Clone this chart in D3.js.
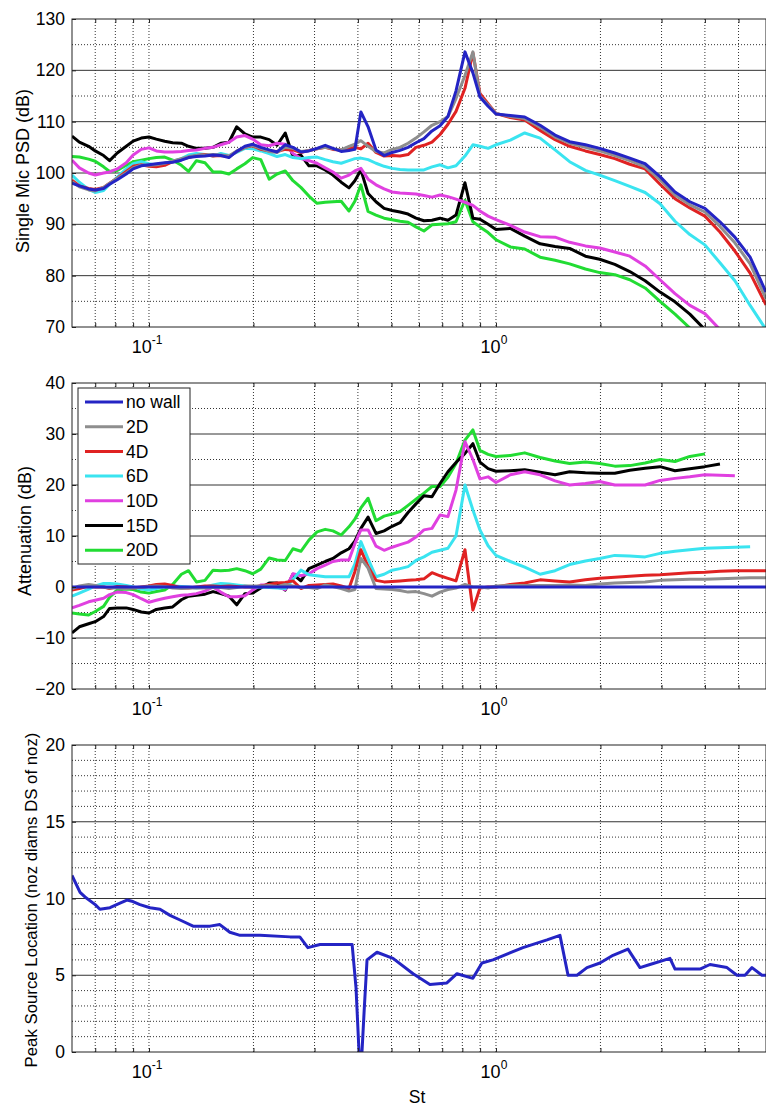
<!DOCTYPE html>
<html lang="en">
<head>
<meta charset="UTF-8">
<title>Wall distance study</title>
<script src="https://cdn.jsdelivr.net/npm/d3@7"></script>
<style>
    body { margin: 0; background: #fff; }
    svg { display: block; font-family: "Liberation Sans", Arial, sans-serif; }
    .grid-major { stroke: #333; stroke-width: 1; }
    .grid-minor { stroke: #333; stroke-width: 1; stroke-dasharray: 1,2; }
    .frame { fill: none; stroke: #222; stroke-width: 1; }
</style>
</head>
<body>
<svg id="chart" width="766" height="1106"></svg>
<script>
// Strouhal numbers shared by the PSD and attenuation curves
const stGrid = [0.060, 0.063, 0.067, 0.070, 0.074, 0.077, 0.081, 0.086, 0.090, 0.095,
    0.100, 0.105, 0.111, 0.117, 0.124, 0.130, 0.137, 0.145, 0.153, 0.161,
    0.170, 0.179, 0.189, 0.199, 0.210, 0.222, 0.234, 0.247, 0.260, 0.274,
    0.289, 0.305, 0.322, 0.339, 0.358, 0.377, 0.392, 0.408, 0.428, 0.451,
    0.476, 0.502, 0.529, 0.558, 0.588, 0.620, 0.654, 0.690, 0.727, 0.767,
    0.814, 0.858, 0.899, 0.949, 1.000, 1.10, 1.21, 1.34, 1.48, 1.63,
    1.81, 1.99, 2.20, 2.43, 2.69, 2.97, 3.28, 3.62, 4.00, 4.42,
    4.88, 5.40, 6.00];

// Single mic PSD (dB)
const psdNoWall = [98.0, 97.5, 96.9, 96.7, 97.0, 97.8, 98.7, 99.8, 100.8, 101.4,
    101.6, 101.8, 102.0, 102.1, 102.5, 103.0, 103.2, 103.3, 103.5, 103.4,
    103.0, 104.2, 105.2, 105.6, 105.0, 104.5, 104.1, 105.5, 105.0, 104.1,
    104.3, 104.8, 105.4, 104.8, 104.2, 104.4, 104.6, 111.9, 109.0, 104.5,
    103.4, 104.0, 104.4, 105.0, 105.9, 106.7, 108.2, 109.2, 111.0, 116.0,
    123.6, 119.5, 114.8, 113.0, 111.5, 111.2, 110.9, 109.3, 107.4, 106.1,
    105.5, 104.8, 103.9, 102.9, 101.8, 99.3, 96.3, 94.4, 93.1, 90.5,
    87.5, 83.6, 76.8];
const psd2D = [98.3, 97.3, 96.7, 96.5, 97.2, 98.0, 98.9, 100.0, 101.0, 101.5,
    101.5, 101.6, 101.9, 102.3, 102.8, 103.2, 103.4, 103.5, 103.6, 103.5,
    103.3, 104.3, 105.0, 105.4, 104.8, 104.2, 104.0, 105.0, 104.8, 104.2,
    104.4, 104.7, 105.0, 104.7, 104.5, 105.2, 105.6, 106.3, 105.2, 104.2,
    103.9, 104.6, 105.0, 105.8, 106.8, 108.0, 109.3, 110.0, 111.0, 114.5,
    119.0, 123.6, 115.0, 113.3, 111.6, 111.0, 110.6, 108.9, 107.0, 105.8,
    105.0, 104.3, 103.4, 102.4, 101.2, 98.7, 95.7, 93.8, 92.4, 89.6,
    86.4, 82.3, 75.5];
const psd4D = [98.6, 97.5, 97.0, 96.8, 97.2, 98.0, 99.0, 100.3, 101.3, 101.6,
    101.3, 101.2, 101.5, 102.2, 102.7, 103.0, 103.4, 103.6, 103.3, 103.4,
    103.2, 104.2, 105.0, 105.3, 104.6, 104.3, 104.2, 104.6, 104.5, 104.0,
    104.4, 104.7, 105.0, 104.6, 104.5, 104.8, 105.0, 104.7, 105.8, 104.0,
    103.3, 103.4, 103.3, 103.6, 105.0, 105.4, 106.0, 107.5, 109.5, 112.0,
    116.5, 123.4, 115.5, 113.5, 111.6, 110.8, 110.3, 108.3, 106.5, 105.2,
    104.3, 103.6, 102.8, 101.7, 100.8, 97.8, 95.0, 93.2, 91.6, 88.5,
    84.8, 80.5, 74.3];
const psd6D = [99.6, 98.2, 96.8, 96.2, 96.6, 97.8, 99.2, 100.8, 101.8, 102.2,
    101.8, 101.5, 101.6, 102.3, 102.8, 103.5, 103.8, 103.6, 103.3, 103.8,
    103.4, 104.0, 104.8, 104.7, 104.3, 103.8, 103.2, 103.6, 103.0, 102.8,
    103.0, 103.1, 102.6, 102.2, 101.9, 102.4, 102.8, 102.9, 102.6, 101.9,
    101.3, 100.9, 100.7, 100.6, 100.6, 100.6, 101.2, 101.6, 101.0, 101.4,
    103.3, 105.5, 105.2, 104.8, 105.5, 106.4, 107.8, 106.8, 104.5, 102.2,
    100.5, 99.6, 98.5, 97.4, 96.2, 94.0, 90.6, 88.0, 86.0, 82.5,
    79.0, 74.2, 69.5];
const psd10D = [102.5, 101.0, 100.0, 99.6, 100.0, 100.2, 100.8, 102.0, 103.5, 104.6,
    104.9, 104.3, 104.1, 104.1, 104.2, 104.4, 104.5, 104.8, 105.0, 105.5,
    106.0, 107.0, 107.3, 106.6, 105.5, 105.3, 105.8, 105.6, 103.8, 102.8,
    102.4, 101.9, 101.0, 100.2, 99.0, 99.6, 100.4, 100.9, 98.8, 97.7,
    96.9, 96.3, 96.1, 96.0, 95.9, 95.6, 95.3, 95.7, 95.4, 94.9,
    94.3, 93.7, 92.6, 91.6, 90.9, 89.8, 88.5, 87.6, 87.5, 86.5,
    85.8, 85.4, 84.6, 83.8, 81.9, 79.2, 76.5, 74.2, 72.6, 69.5,
    66.0, 63.0, 60.0];
const psd15D = [107.2, 106.0, 105.2, 104.3, 103.4, 102.4, 103.9, 105.2, 106.2, 106.8,
    107.0, 106.6, 106.2, 105.9, 105.8, 105.2, 104.8, 104.8, 105.0, 105.8,
    106.0, 109.0, 107.6, 107.0, 107.0, 106.5, 105.4, 107.8, 103.2, 103.5,
    101.4, 101.4, 100.6, 99.6, 98.2, 97.1, 98.5, 100.6, 96.0, 94.4,
    93.1, 92.7, 92.4, 92.0, 91.2, 90.7, 90.8, 91.2, 90.8, 91.8,
    98.1, 91.2, 91.0, 90.0, 89.0, 89.2, 87.7, 86.2, 85.7, 85.3,
    83.8, 83.2, 82.2, 80.8, 79.0, 76.8, 74.9, 72.5, 69.5, 66.0,
    63.0, 60.0, 57.0];
const psd20D = [103.2, 103.1, 102.7, 102.3, 101.2, 100.3, 100.5, 101.5, 102.2, 102.5,
    102.8, 103.0, 103.1, 102.5, 101.5, 100.3, 102.4, 102.0, 100.2, 100.2,
    99.8, 100.8, 101.8, 103.0, 102.6, 98.8, 99.8, 100.4, 98.5, 97.2,
    95.5, 94.1, 94.3, 94.4, 94.5, 92.6, 94.5, 97.7, 92.5, 91.8,
    91.2, 90.9, 90.6, 90.4, 89.5, 88.7, 89.9, 90.0, 90.1, 90.5,
    94.7, 90.5, 89.5, 88.4, 87.0, 85.6, 85.2, 83.6, 83.0, 82.3,
    81.3, 80.6, 80.2, 79.2, 77.6, 75.0, 72.5, 69.8, 66.0, 63.0,
    60.0, 57.0, 54.0];

// Attenuation (dB), null where a curve stops
const attNoWall = [0, 0, 0, 0, 0, 0, 0, 0, 0, 0,
    0, 0, 0, 0, 0, 0, 0, 0, 0, 0,
    0, 0, 0, 0, 0, 0, 0, 0, 0, 0,
    0, 0, 0, 0, 0, 0, 0, 0, 0, 0,
    0, 0, 0, 0, 0, 0, 0, 0, 0, 0,
    0, 0, 0, 0, 0, 0, 0, 0, 0, 0,
    0, 0, 0, 0, 0, 0, 0, 0, 0, 0,
    0, 0, 0];
const att2D = [-0.3, 0.2, 0.5, 0.3, 0, -0.2, -0.2, -0.3, -0.2, -0.1,
    0.1, 0.2, 0.1, -0.2, -0.3, -0.2, -0.2, -0.2, -0.1, -0.1,
    -0.3, -0.1, 0.2, 0.2, 0.2, 0.3, 0.1, 0.5, 0.2, -0.1,
    -0.1, -0.3, 0.4, 0.1, -0.3, -0.8, -0.5, 5.6, 3.7, -0.3,
    -0.4, -0.5, -0.7, -1.0, -0.9, -1.3, -1.8, -1.0, -0.5, -0.2,
    0.5, 0, 0, -0.2, 0.2, 0.3, 0.3, 0.3, 0.3, 0.4,
    0.3, 0.6, 0.8, 0.9, 1.0, 1.3, 1.4, 1.5, 1.5, 1.6,
    1.7, 1.8, 1.8];
const att4D = [-0.6, -0.3, 0.2, 0, 0, -0.3, 0.1, 0, -0.2, 0,
    0.2, 0.5, 0.6, 0.3, -0.2, -0.2, 0, 0.2, 0.2, 0.1,
    0.2, 0.1, 0, 0, 0.2, 0.5, 0.8, 0.9, 1.2, -0.3,
    0.3, 0.4, 0.5, 0.6, 0.2, -0.3, 3.0, 7.3, 4.0, 1.3,
    1.0, 1.1, 1.2, 1.3, 1.4, 1.6, 2.8, 2.2, 1.7, 1.2,
    7.3, -4.5, -0.2, 0, 0, 0.5, 0.8, 1.4, 1.2, 1.0,
    1.4, 1.7, 1.9, 2.1, 2.3, 2.4, 2.6, 2.8, 2.9, 3.1,
    3.2, 3.2, 3.2];
const att6D = [-1.8, -1.2, -0.4, 0.2, 0.7, 0.7, 0.6, 0.3, 0, -0.4,
    -0.6, -0.3, 0, 0.2, 0.1, 0, -0.2, 0, 0.4, 0.7,
    0.6, 0.4, 0.2, 0, 0, -0.1, -0.2, -0.3, 1.5, 3.3,
    2.4, 2.2, 2.0, 2.0, 2.0, 2.0, 4.5, 8.9, 5.5, 2.0,
    2.5, 3.3, 3.6, 4.0, 5.2, 5.9, 6.8, 7.2, 7.6, 10.0,
    20.0, 15.1, 11.2, 8.1, 6.2, 5.0, 3.9, 2.5, 3.2, 4.4,
    5.1, 5.6, 6.2, 6.1, 5.9, 6.6, 7.0, 7.3, 7.6, 7.7,
    7.8, 7.9, null];
const att10D = [-4.1, -3.6, -2.9, -2.6, -2.2, -1.5, -1.0, -1.1, -1.5, -2.3,
    -3.0, -2.6, -2.2, -1.9, -1.6, -1.5, -1.3, -0.8, 0, -1.0,
    -1.9, -1.9, -1.7, -0.6, 0.4, 0.4, 0, -0.5, 2.6, 2.2,
    2.6, 3.6, 4.3, 5.0, 5.3, 5.3, 8.5, 11.2, 11.2, 8.0,
    7.2, 7.8, 8.3, 8.8, 9.8, 11.2, 11.5, 14.1, 13.8, 19.0,
    28.5, 25.0, 21.2, 21.6, 20.5, 22.0, 22.6, 22.0, 20.8, 20.0,
    20.3, 20.7, 20.0, 20.0, 20.0, 20.9, 21.3, 21.6, 22.0, 21.9,
    21.8, null, null];
const att15D = [-9.0, -7.8, -7.2, -6.8, -5.8, -4.2, -4.1, -4.1, -4.4, -4.9,
    -5.1, -4.4, -4.1, -3.9, -2.5, -1.8, -1.6, -1.4, -0.9, -1.3,
    -1.8, -3.5, -1.3, -1.2, -0.2, 0.8, 0.8, -0.6, 2.5, 1.2,
    3.6, 4.3, 5.0, 5.6, 6.7, 7.5, 9.0, 11.5, 13.7, 10.5,
    11.0, 11.9, 12.6, 14.6, 16.3, 17.9, 17.7, 20.3, 22.6, 24.4,
    26.2, 28.1, 24.5, 23.2, 22.7, 22.8, 23.0, 22.5, 22.0, 22.6,
    22.4, 22.3, 22.3, 22.9, 23.3, 23.6, 22.8, 23.2, 23.6, 24.1,
    null, null, null];
const att20D = [-5.1, -5.3, -5.5, -4.8, -3.8, -2.0, -0.6, -0.4, -0.5, -1.0,
    -1.2, -0.9, -0.6, 0.5, 2.5, 3.2, 1.0, 1.3, 3.3, 3.2,
    3.3, 3.6, 3.2, 2.6, 3.5, 5.7, 5.3, 5.2, 7.5, 7.0,
    9.2, 10.8, 11.3, 11.0, 10.2, 11.8, 13.3, 15.5, 17.4, 13.0,
    13.9, 14.3, 14.8, 16.0, 17.2, 18.4, 19.7, 19.7, 21.5, 24.2,
    28.8, 30.8, 26.8, 26.0, 25.6, 25.8, 26.3, 25.4, 24.7, 24.2,
    24.5, 24.2, 23.7, 23.8, 24.3, 25.0, 24.6, 25.6, 26.1, null,
    null, null, null];

// Peak source location (nozzle diameters downstream)
const peakSt = [0.060, 0.0633, 0.0654, 0.070, 0.0722, 0.0772, 0.0825, 0.0864, 0.0899, 0.0942,
    0.1007, 0.1076, 0.115, 0.1229, 0.134, 0.150, 0.160, 0.171, 0.183, 0.209,
    0.255, 0.272, 0.287, 0.311, 0.355, 0.385, 0.395, 0.403, 0.411, 0.417,
    0.425, 0.454, 0.505, 0.577, 0.645, 0.722, 0.772, 0.858, 0.911, 0.980,
    1.196, 1.403, 1.529, 1.613, 1.712, 1.829, 1.994, 2.174, 2.401, 2.60,
    2.778, 3.172, 3.281, 3.459, 3.871, 4.137, 4.631, 4.948, 5.22, 5.467,
    5.84, 6.0];
const peakLoc = [11.5, 10.4, 10.1, 9.6, 9.3, 9.4, 9.7, 9.9, 9.8, 9.6,
    9.4, 9.3, 8.9, 8.6, 8.2, 8.2, 8.3, 7.8, 7.6, 7.6,
    7.5, 7.5, 6.8, 7.0, 7.0, 7.0, 4.2, 0, 0, 2.7,
    6.0, 6.5, 6.1, 5.1, 4.4, 4.5, 5.1, 4.8, 5.8, 6.0,
    6.8, 7.3, 7.6, 5.0, 5.0, 5.5, 5.8, 6.3, 6.7, 5.5,
    5.7, 6.1, 5.4, 5.4, 5.4, 5.7, 5.5, 5.0, 5.0, 5.5,
    5.0, 5.0];

const seriesNames = ["no wall", "2D", "4D", "6D", "10D", "15D", "20D"];
const seriesColors = ["#2424c4", "#8e8e8e", "#e02222", "#3ae4f0", "#e040e0", "#000000", "#22dc33"];
const psdSeries = [psdNoWall, psd2D, psd4D, psd6D, psd10D, psd15D, psd20D];
const attSeries = [attNoWall, att2D, att4D, att6D, att10D, att15D, att20D];

const xGridTicks = [0.07, 0.08, 0.09, 0.1, 0.2, 0.3, 0.4, 0.5, 0.6, 0.7, 0.8, 0.9, 1, 2, 3, 4, 5];
const xLabelTicks = [0.1, 1];
const xLabelExps = ["-1", "0"];

const psdTicks = [70, 80, 90, 100, 110, 120, 130];
const psdMinor = [75, 85, 95, 105, 115, 125];
const attTicks = [-20, -10, 0, 10, 20, 30, 40];
const attMinor = [-15, -5, 5, 15, 25, 35];
const peakTicks = [0, 5, 10, 15, 20];
const peakMinor = [1, 2, 3, 4, 6, 7, 8, 9, 11, 12, 13, 14, 16, 17, 18, 19];

const left = 72, right = 766;
const svg = d3.select("#chart");
const x = d3.scaleLog().domain([0.06, 6]).range([left, right]);

function drawPanel(p) {
    const y = d3.scaleLinear().domain(p.yDomain).range([p.bottom, p.top]);
    const g = svg.append("g");

    svg.append("clipPath").attr("id", "clip-" + p.id)
        .append("rect")
        .attr("x", left).attr("y", p.top)
        .attr("width", right - left).attr("height", p.bottom - p.top);

    // grid: dotted verticals and minor horizontals, solid major horizontals
    g.selectAll(".vgrid").data(xGridTicks).enter().append("line")
        .attr("class", "grid-minor")
        .attr("x1", d => x(d)).attr("x2", d => x(d))
        .attr("y1", p.top).attr("y2", p.bottom);
    g.selectAll(".hminor").data(p.yMinor).enter().append("line")
        .attr("class", "grid-minor")
        .attr("x1", left).attr("x2", right)
        .attr("y1", d => y(d)).attr("y2", d => y(d));
    g.selectAll(".hmajor").data(p.yTicks.slice(1, -1)).enter().append("line")
        .attr("class", "grid-major")
        .attr("x1", left).attr("x2", right)
        .attr("y1", d => y(d)).attr("y2", d => y(d));

    // curves
    const line = d3.line()
        .defined(d => d[1] !== null)
        .x(d => x(d[0]))
        .y(d => y(d[1]));
    const curves = g.append("g").attr("clip-path", `url(#clip-${p.id})`);
    p.series.forEach(s => {
        curves.append("path")
            .datum(s.st.map((v, i) => [v, s.values[i]]))
            .attr("fill", "none")
            .attr("stroke", s.color)
            .attr("stroke-width", 3)
            .attr("stroke-linejoin", "round")
            .attr("d", line);
    });

    // frame and inward ticks
    g.append("rect").attr("class", "frame")
        .attr("x", left).attr("y", p.top)
        .attr("width", right - left).attr("height", p.bottom - p.top);

    g.append("g")
        .attr("transform", `translate(${left},0)`)
        .call(d3.axisLeft(y).tickValues(p.yTicks).tickSize(-4).tickPadding(7))
        .call(a => a.select(".domain").remove())
        .call(a => a.selectAll("line").attr("stroke", "#222"))
        .call(a => a.selectAll("text")
            .attr("font-size", 17.5)
            .attr("font-family", "Liberation Sans, Arial, sans-serif")
            .attr("fill", "#000"));

    g.append("g")
        .attr("transform", `translate(0,${p.bottom})`)
        .call(d3.axisBottom(x).tickValues(xGridTicks).tickSize(-4).tickFormat(""))
        .call(a => a.select(".domain").remove())
        .call(a => a.selectAll("line").attr("stroke", "#222"));
    g.append("g")
        .attr("transform", `translate(0,${p.top})`)
        .call(d3.axisTop(x).tickValues(xGridTicks).tickSize(-4).tickFormat(""))
        .call(a => a.select(".domain").remove())
        .call(a => a.selectAll("line").attr("stroke", "#222"));

    // decade labels 10^-1, 10^0
    const lab = g.selectAll(".xlab").data(xLabelTicks).enter().append("text")
        .attr("x", d => x(d) - 2)
        .attr("y", p.bottom + 26)
        .attr("text-anchor", "middle")
        .attr("font-size", 18);
    lab.append("tspan").text("10");
    lab.append("tspan").attr("dy", -9).attr("font-size", 12).text((d, i) => xLabelExps[i]);

    // y title
    g.append("text")
        .attr("transform", `translate(${p.titleX},${p.titleY}) rotate(-90)`)
        .attr("text-anchor", "middle")
        .attr("font-size", p.titleSize)
        .text(p.title);

    return y;
}

// draw "no wall" last so it sits on top, as in the original
const order = [6, 5, 4, 3, 2, 1, 0];

drawPanel({
    id: "psd", top: 19, bottom: 327, yDomain: [70, 130],
    yTicks: psdTicks, yMinor: psdMinor,
    title: "Single Mic PSD (dB)", titleX: 29, titleY: 171, titleSize: 18,
    series: order.map(i => ({ st: stGrid, values: psdSeries[i], color: seriesColors[i] }))
});

drawPanel({
    id: "att", top: 383, bottom: 689, yDomain: [-20, 40],
    yTicks: attTicks, yMinor: attMinor,
    title: "Attenuation (dB)", titleX: 31, titleY: 531, titleSize: 18,
    series: order.map(i => ({ st: stGrid, values: attSeries[i], color: seriesColors[i] }))
});

drawPanel({
    id: "peak", top: 745, bottom: 1052, yDomain: [0, 20],
    yTicks: peakTicks, yMinor: peakMinor,
    title: "Peak Source Location (noz diams DS of noz)", titleX: 37, titleY: 900, titleSize: 16.8,
    series: [{ st: peakSt, values: peakLoc, color: seriesColors[0] }]
});

// x label
svg.append("text")
    .attr("x", 417).attr("y", 1103)
    .attr("text-anchor", "middle")
    .attr("font-size", 17.5)
    .text("St");

// legend in the attenuation panel
const legend = svg.append("g").attr("transform", "translate(78,388)");
legend.append("rect")
    .attr("width", 112).attr("height", 176)
    .attr("fill", "#fff").attr("stroke", "#222");
const entry = legend.selectAll(".entry").data(seriesNames).enter().append("g")
    .attr("transform", (d, i) => `translate(0,${14 + i * 24.7})`);
entry.append("line")
    .attr("x1", 7).attr("x2", 45)
    .attr("stroke", (d, i) => seriesColors[i])
    .attr("stroke-width", 3);
entry.append("text")
    .attr("x", 48).attr("dy", "0.35em")
    .attr("font-size", 17.5)
    .text(d => d);
</script>
</body>
</html>
